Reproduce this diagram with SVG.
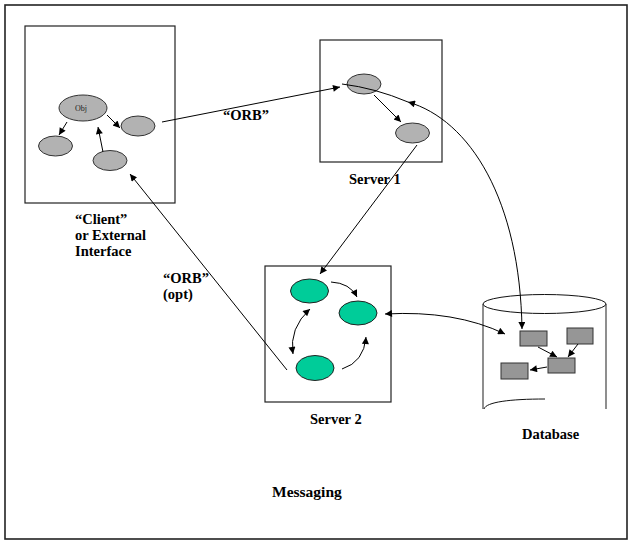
<svg xmlns="http://www.w3.org/2000/svg" width="641" height="546" viewBox="0 0 641 546">
<defs>
<style>
.box{fill:#fff;stroke:#222;stroke-width:1.2}
.ge{fill:#b2b2b2;stroke:#333;stroke-width:1}
.gr{fill:#00cc99;stroke:#222;stroke-width:1}
.dr{fill:#969696;stroke:#333;stroke-width:1}
.ln{fill:none;stroke:#000;stroke-width:1}
.lbl{font-family:"Liberation Serif","Times New Roman",serif;font-weight:bold;font-size:14.5px;fill:#000}
.obj{font-family:"Liberation Serif","Times New Roman",serif;font-size:8px;fill:#222}
</style>
<marker id="ah" viewBox="0 0 10 10" refX="10" refY="5" markerWidth="9" markerHeight="7" markerUnits="userSpaceOnUse" orient="auto-start-reverse">
<path d="M0,0 L10,5 L0,10 Z" fill="#000"/>
</marker>
</defs>
<rect width="641" height="546" fill="#fff"/>
<rect x="5" y="5" width="622" height="534" fill="none" stroke="#222" stroke-width="1.6"/>

<g id="client">
<rect class="box" x="25" y="26" width="150" height="177"/>
<ellipse class="ge" cx="83" cy="108" rx="24" ry="13"/>
<text class="obj" x="75" y="111">Obj</text>
<ellipse class="ge" cx="138" cy="126" rx="17" ry="10"/>
<ellipse class="ge" cx="55.5" cy="146" rx="17" ry="10"/>
<ellipse class="ge" cx="110" cy="160.5" rx="17" ry="10"/>
<text class="lbl" x="75" y="224">“Client”</text>
<text class="lbl" x="75" y="240">or External</text>
<text class="lbl" x="75" y="256">Interface</text>
</g>

<g id="server1">
<rect class="box" x="320" y="40" width="122" height="122"/>
<ellipse class="ge" cx="364" cy="84" rx="17" ry="10"/>
<ellipse class="ge" cx="412.5" cy="133" rx="17" ry="10"/>
<text class="lbl" x="349" y="184">Server 1</text>
</g>

<g id="server2">
<rect class="box" x="265" y="266" width="126" height="136"/>
<ellipse class="gr" cx="309.5" cy="291" rx="19" ry="12"/>
<ellipse class="gr" cx="358" cy="313" rx="19" ry="12"/>
<ellipse class="gr" cx="315" cy="368" rx="19" ry="12.5"/>
<text class="lbl" x="310" y="424">Server 2</text>
</g>

<g id="database">
<path d="M483,304 L483,409" fill="none" stroke="#444" stroke-width="1.2"/>
<path d="M606,304 L606,409" fill="none" stroke="#444" stroke-width="1.2"/>
<ellipse cx="544.5" cy="304" rx="61.5" ry="9.5" fill="#fff" stroke="#111" stroke-width="1"/>
<path d="M484,409 C486,402 510,399 545,399" fill="none" stroke="#111" stroke-width="1"/>
<rect class="dr" x="520" y="331" width="27" height="15"/>
<rect class="dr" x="567" y="328" width="26" height="16"/>
<rect class="dr" x="548" y="358" width="27" height="15"/>
<rect class="dr" x="501" y="363" width="27" height="16"/>
<text class="lbl" x="522" y="439">Database</text>
</g>

<g id="labels">
<text class="lbl" x="223" y="120">“ORB”</text>
<text class="lbl" x="163" y="283">“ORB”</text>
<text class="lbl" x="163" y="299">(opt)</text>
<text class="lbl" x="272" y="497" style="font-size:15.5px">Messaging</text>
</g>

<g id="connectors">
<path class="ln" d="M67,122 L59,135" marker-end="url(#ah)"/>
<path class="ln" d="M107,115 L120,128" marker-end="url(#ah)"/>
<path class="ln" d="M103,152 L98,127" marker-end="url(#ah)"/>
<path class="ln" d="M162,122 L340,87" marker-end="url(#ah)"/>
<path class="ln" d="M374,95 L401,122" marker-end="url(#ah)"/>
<path class="ln" d="M522,329 C520,200 470,120 408,102" marker-start="url(#ah)" marker-end="url(#ah)"/>
<path class="ln" d="M408,102 Q375,88 342,84"/>
<path class="ln" d="M417,145 L320,274" marker-end="url(#ah)"/>
<path class="ln" d="M287,370 L130,174" marker-end="url(#ah)"/>
<path class="ln" d="M331,282 Q350,283 357,297" marker-end="url(#ah)"/>
<path class="ln" d="M310,309 Q289,328 293,354" marker-start="url(#ah)" marker-end="url(#ah)"/>
<path class="ln" d="M342,369 Q364,362 366,337" marker-end="url(#ah)"/>
<path class="ln" d="M385,314 Q455,310 505,334" marker-start="url(#ah)" marker-end="url(#ah)"/>
<path class="ln" d="M538,347 L557,357" marker-end="url(#ah)"/>
<path class="ln" d="M578,344 L568,357" marker-end="url(#ah)"/>
<path class="ln" d="M547,367 L530,370" marker-end="url(#ah)"/>
</g>
</svg>
